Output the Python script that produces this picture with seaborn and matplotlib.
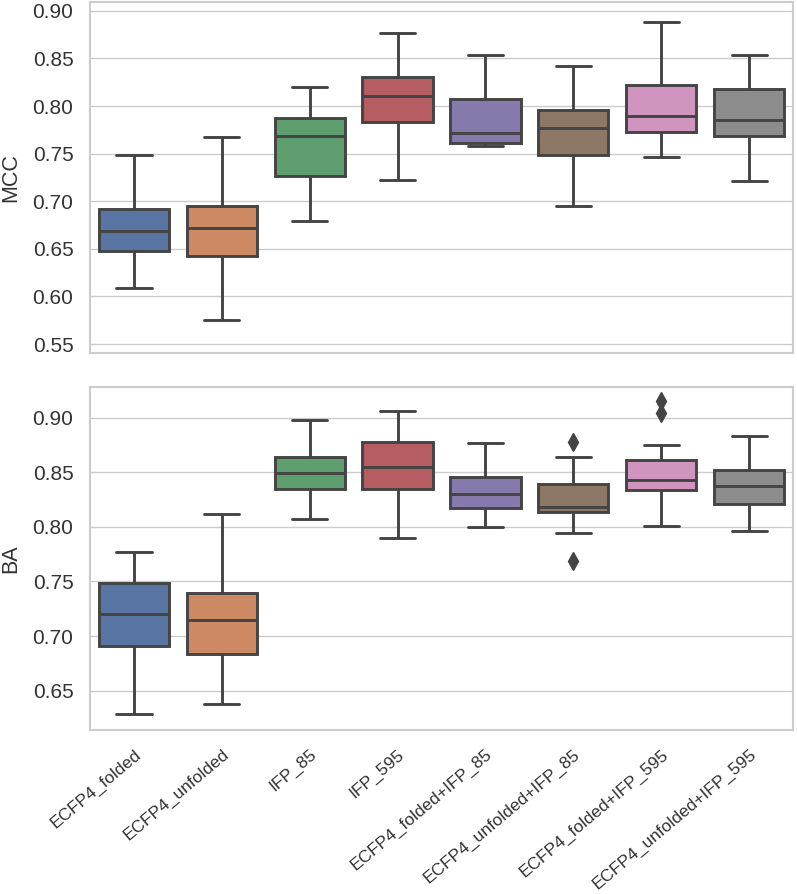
import numpy as np
import pandas as pd
import seaborn as sns
import matplotlib.pyplot as plt

# feature sets on the x axis
features = ['ECFP4_folded', 'ECFP4_unfolded', 'IFP_85', 'IFP_595',
            'ECFP4_folded+IFP_85', 'ECFP4_unfolded+IFP_85',
            'ECFP4_folded+IFP_595', 'ECFP4_unfolded+IFP_595']

# MCC scores per feature set
mcc_scores = [
    [0.609, 0.631, 0.648, 0.660, 0.669, 0.681, 0.692, 0.718, 0.749],
    [0.575, 0.618, 0.642, 0.655, 0.672, 0.684, 0.695, 0.731, 0.768],
    [0.679, 0.705, 0.727, 0.751, 0.769, 0.778, 0.787, 0.803, 0.820],
    [0.722, 0.756, 0.783, 0.797, 0.811, 0.822, 0.831, 0.852, 0.877],
    [0.758, 0.760, 0.761, 0.766, 0.772, 0.790, 0.807, 0.829, 0.854],
    [0.695, 0.722, 0.749, 0.765, 0.777, 0.787, 0.796, 0.818, 0.842],
    [0.746, 0.760, 0.773, 0.781, 0.790, 0.806, 0.822, 0.853, 0.888],
    [0.721, 0.745, 0.769, 0.777, 0.785, 0.801, 0.818, 0.836, 0.854],
]

# balanced accuracy per feature set
ba_scores = [
    [0.629, 0.662, 0.691, 0.706, 0.720, 0.735, 0.749, 0.763, 0.777],
    [0.638, 0.661, 0.684, 0.700, 0.715, 0.727, 0.739, 0.775, 0.812],
    [0.807, 0.821, 0.835, 0.842, 0.849, 0.857, 0.864, 0.881, 0.898],
    [0.790, 0.812, 0.835, 0.845, 0.855, 0.867, 0.878, 0.892, 0.906],
    [0.800, 0.809, 0.817, 0.824, 0.830, 0.838, 0.846, 0.861, 0.877],
    [0.769, 0.794, 0.814, 0.816, 0.818, 0.829, 0.839, 0.864, 0.878],
    [0.801, 0.815, 0.826, 0.834, 0.837, 0.840, 0.8425, 0.848, 0.855,
     0.861, 0.875, 0.904, 0.915],
    [0.796, 0.809, 0.821, 0.829, 0.837, 0.844, 0.852, 0.868, 0.883],
]

def to_long(scores, metric):
    rows = []
    for feat, vals in zip(features, scores):
        for v in vals:
            rows.append({'feature': feat, metric: v})
    return pd.DataFrame(rows)

df_mcc = to_long(mcc_scores, 'MCC')
df_ba = to_long(ba_scores, 'BA')

sns.set_theme(style='whitegrid', palette='deep')
plt.rcParams['font.family'] = ['Liberation Sans', 'DejaVu Sans']

fig = plt.figure(figsize=(7.97, 8.94), dpi=100)
ax1 = fig.add_axes([0.113, 0.605, 0.882, 0.393])
ax2 = fig.add_axes([0.113, 0.1834, 0.882, 0.3837])

box_kws = dict(
    order=features, hue_order=features, palette='deep', linewidth=2.1,
    linecolor='#444444', width=0.8, legend=False,
    flierprops=dict(marker='d', markerfacecolor='#444444',
                    markeredgecolor='#444444', markersize=9),
)

# top panel
sns.boxplot(data=df_mcc, x='feature', y='MCC', hue='feature', ax=ax1, **box_kws)
ax1.set_ylim(0.5405, 0.9095)
ax1.set_yticks(np.arange(0.55, 0.901, 0.05))
ax1.set_xlabel('')
ax1.set_ylabel('MCC', fontsize=15.5, color='#333333', labelpad=8)
ax1.set_xticklabels([])

# bottom panel
sns.boxplot(data=df_ba, x='feature', y='BA', hue='feature', ax=ax2, **box_kws)
ax2.set_ylim(0.614, 0.928)
ax2.set_yticks(np.arange(0.65, 0.901, 0.05))
ax2.set_xlabel('')
ax2.set_ylabel('BA', fontsize=15.5, color='#333333', labelpad=8)
ax2.set_xticks(range(len(features)))
ax2.set_xticklabels(features, rotation=40, ha='right', va='top',
                    rotation_mode='anchor', fontsize=12.5, color='#333333')
ax2.tick_params(axis='x', pad=6)

for ax in (ax1, ax2):
    ax.set_xlim(-0.5, 7.5)
    ax.tick_params(axis='y', labelsize=15, pad=6, labelcolor='#333333')
    ax.set_yticklabels([f'{t:.2f}' for t in ax.get_yticks()])
    for s in ax.spines.values():
        s.set_color('#cccccc')
        s.set_linewidth(1.5)

fig.savefig('out.png', dpi=100)
